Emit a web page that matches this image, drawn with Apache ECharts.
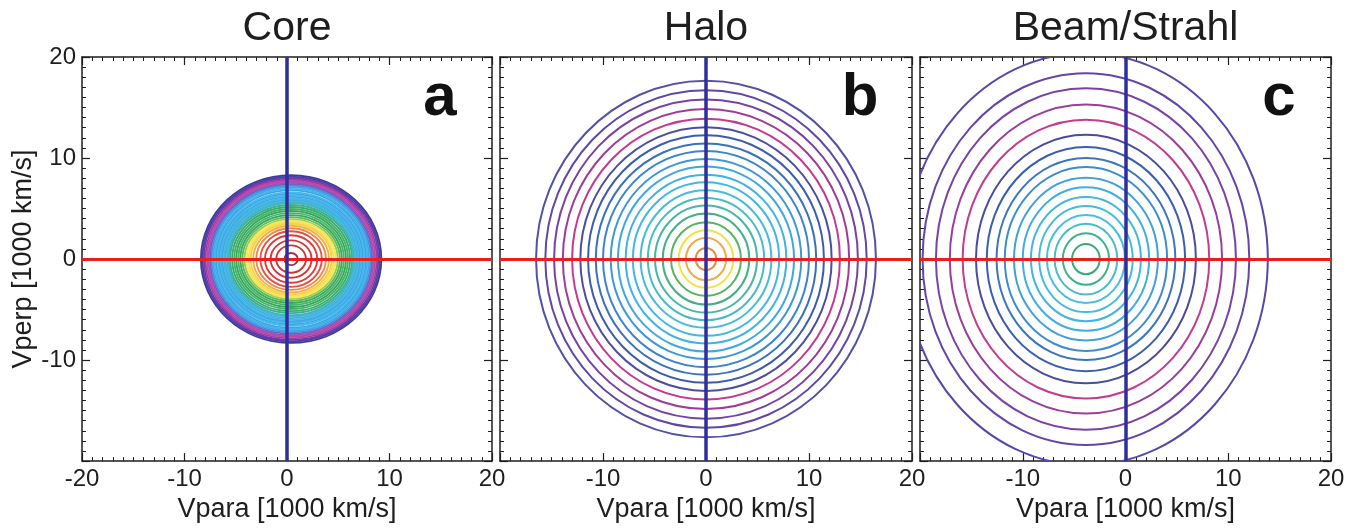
<!DOCTYPE html>
<html>
<head>
<meta charset="utf-8">
<script src="https://cdn.jsdelivr.net/npm/echarts@6/dist/echarts.min.js"></script>
<style>
  html, body { margin: 0; padding: 0; background: #ffffff; }
  #chart { width: 1351px; height: 528px; }
</style>
</head>
<body>
<div id="chart"></div>
<script>
// Velocity-space contours of the electron distribution components
const panelTitles = ['Core', 'Halo', 'Beam/Strahl'];
const panelLetters = ['a', 'b', 'c'];
const xAxisName = 'Vpara [1000 km/s]';
const yAxisName = 'Vperp [1000 km/s]';
const axisMin = -20;
const axisMax = 20;
const axisStep = 10;

// Core: centre (Vpara, Vperp) and contour semi-axes, outermost first
const coreCenter = [0.4, 0];
const coreRx = [8.8, 8.65, 8.5, 8.35, 8.2, 8.05, 7.9, 7.75, 7.6, 7.45, 7.3, 7.15, 7.0, 6.85, 6.7, 6.55, 6.4, 6.25, 6.1,
  5.95, 5.75, 5.55, 5.35, 5.15, 4.95, 4.75, 4.55, 4.35, 4.15, 3.95, 3.7, 3.4, 3.0, 2.55, 2.0, 1.45, 0.65];
const coreRy = [8.3, 8.15, 8.0, 7.85, 7.7, 7.55, 7.4, 7.25, 7.1, 6.95, 6.8, 6.6, 6.45, 6.3, 6.15, 6.0, 5.85, 5.7, 5.55,
  5.35, 5.15, 4.95, 4.75, 4.55, 4.35, 4.15, 3.95, 3.8, 3.65, 3.5, 3.3, 3.05, 2.75, 2.35, 1.85, 1.35, 0.6];
const coreColors = ['#3b3d9e', '#4b3fa6', '#6a3ca8', '#9a3fa8', '#c244a6', '#b04cb4', '#6f5ec4', '#4f8ad8',
  '#3fa8e6', '#45b4ec', '#3aa6e4', '#48b8ee', '#3aa8e6', '#46b6ec', '#3ca8e4', '#46b6ea', '#40b0e0', '#44b8d8', '#3fb4c4',
  '#3cb090', '#3aac70', '#44b464', '#36a85e', '#48b66a', '#38aa5c', '#5cba5a', '#9ccc58',
  '#f6e658', '#f8e04c', '#f4d24a', '#f2b04a', '#ee8a48', '#e65040', '#e03a3a', '#dc3434', '#d03434', '#a0303a'];

// Halo
const haloCenter = [0, 0];
const haloRx = [16.5, 15.6, 14.75, 13.9, 13.0, 12.2, 11.45, 10.7, 10.0, 9.25, 8.55, 7.8, 7.1, 6.35, 5.65, 4.95, 4.2, 3.4, 2.65, 1.95, 1.0];
const haloRy = [17.65, 16.7, 15.8, 14.85, 13.9, 13.05, 12.25, 11.45, 10.7, 9.9, 9.15, 8.35, 7.6, 6.8, 6.05, 5.3, 4.5, 3.65, 2.85, 2.1, 1.1];
const haloColors = ['#5450a4', '#6048a8', '#7842a2', '#a03c98', '#c43a8e', '#4c4e9e', '#3c5cae', '#3a70bc', '#3c84cc',
  '#3e98d8', '#40a8e0', '#42b2e4', '#44b8e2', '#46bcd8', '#48bcc4', '#46b8a4', '#44b084', '#58b462',
  '#f4e244', '#f0aa48', '#e09048'];

// Beam / Strahl
const beamCenter = [-3.85, 0];
const beamRx = [17.7, 15.9, 14.6, 13.25, 12.0, 10.7, 9.65, 8.7, 7.9, 7.0, 6.15, 5.35, 4.55, 3.8, 3.05, 2.25, 1.35];
const beamRy = [20.4, 18.4, 16.9, 15.3, 13.8, 12.3, 11.1, 10.0, 9.1, 8.05, 7.1, 6.15, 5.25, 4.35, 3.5, 2.55, 1.5];
const beamColors = ['#5548a8', '#6446a8', '#7a42a4', '#9a3e9c', '#c23c90', '#4a4c9c', '#3a5eb0', '#3c76c0', '#3e8cd0',
  '#40a0da', '#40aee0', '#42b6e2', '#44bce0', '#46c0dc', '#48bcc8', '#40b090', '#3aa878'];

const panels = [
  { center: coreCenter, rx: coreRx, ry: coreRy, colors: coreColors, width: 1.9 },
  { center: haloCenter, rx: haloRx, ry: haloRy, colors: haloColors, width: 2 },
  { center: beamCenter, rx: beamRx, ry: beamRy, colors: beamColors, width: 2 }
];

const gridBoxes = [
  { left: 82, top: 57, width: 410, height: 410 },
  { left: 500, top: 57, width: 412, height: 410 },
  { left: 920, top: 57, width: 411, height: 410 }
];

const FONT = '"Liberation Sans", Arial, Helvetica, sans-serif';
const INK = '#1e1e1e';

function frameAxis(gridIndex, position, showLabels, hide, minorSplit) {
  return {
    type: 'value',
    gridIndex: gridIndex,
    position: position,
    min: axisMin,
    max: axisMax,
    interval: axisStep,
    axisLine: { show: true, onZero: false, lineStyle: { color: INK, width: 1.5 } },
    axisTick: { show: true, inside: true, length: 8, lineStyle: { color: INK, width: 1.2 } },
    minorTick: { show: true, splitNumber: minorSplit, length: 4, lineStyle: { color: INK, width: 1 } },
    splitLine: { show: false },
    axisLabel: {
      show: showLabels,
      fontFamily: FONT,
      fontSize: 24,
      color: INK,
      margin: 6,
      formatter: function (v) { return hide.indexOf(v) >= 0 ? '' : String(v); }
    }
  };
}

const xAxes = [];
const yAxes = [];
const series = [];
for (let i = 0; i < 3; i++) {
  const xb = frameAxis(i, 'bottom', true, i === 0 ? [] : [-20], 10);
  xb.name = xAxisName;
  xb.nameLocation = 'middle';
  xb.nameGap = 20;
  xb.nameTextStyle = { fontFamily: FONT, fontSize: 27, color: INK };
  xAxes.push(xb);
  xAxes.push(frameAxis(i, 'top', false, [], 10));

  const yl = frameAxis(i, 'left', i === 0, [-20], 10);
  if (i === 0) {
    yl.name = yAxisName;
    yl.nameLocation = 'middle';
    yl.nameGap = 42;
    yl.nameTextStyle = { fontFamily: FONT, fontSize: 27, color: INK };
  }
  yAxes.push(yl);
  yAxes.push(frameAxis(i, 'right', false, [], 10));

  const p = panels[i];
  const data = p.rx.map(function (r, k) { return [p.center[0], p.center[1], r, p.ry[k]]; });
  series.push({
    type: 'custom',
    xAxisIndex: i * 2,
    yAxisIndex: i * 2,
    clip: true,
    silent: true,
    z: 2,
    data: data,
    renderItem: function (params, api) {
      const c = api.coord([api.value(0), api.value(1)]);
      const s = api.size([api.value(2), api.value(3)]);
      return {
        type: 'ellipse',
        shape: { cx: c[0], cy: c[1], rx: s[0], ry: s[1] },
        style: { fill: 'none', stroke: p.colors[params.dataIndex], lineWidth: p.width }
      };
    }
  });
  // Reference axes Vperp = 0 (red) and Vpara = 0 (blue)
  series.push({
    type: 'line',
    xAxisIndex: i * 2,
    yAxisIndex: i * 2,
    data: [],
    z: 5,
    silent: true,
    markLine: {
      silent: true,
      symbol: ['none', 'none'],
      label: { show: false },
      animation: false,
      data: [
        { yAxis: 0, lineStyle: { color: '#e8201c', width: 3, type: 'solid' } },
        { xAxis: 0, lineStyle: { color: '#2f2f9c', width: 3.5, type: 'solid' } }
      ]
    }
  });
}

const centers = gridBoxes.map(function (g) { return g.left + g.width / 2; });
const graphic = [];
for (let i = 0; i < 3; i++) {
  graphic.push({
    type: 'text', x: centers[i], y: 29, silent: true,
    style: { text: panelTitles[i], font: '41px ' + FONT, fill: INK, align: 'center', verticalAlign: 'middle' }
  });
  graphic.push({
    type: 'text', x: gridBoxes[i].left + gridBoxes[i].width - 52, y: 98, silent: true,
    style: { text: panelLetters[i], font: 'bold 60px ' + FONT, fill: '#111', align: 'center', verticalAlign: 'middle' }
  });
}

const chart = echarts.init(document.getElementById('chart'), null, { renderer: 'canvas' });
chart.setOption({
  animation: false,
  backgroundColor: '#ffffff',
  grid: gridBoxes,
  xAxis: xAxes,
  yAxis: yAxes,
  series: series,
  graphic: graphic
});
</script>
</body>
</html>
